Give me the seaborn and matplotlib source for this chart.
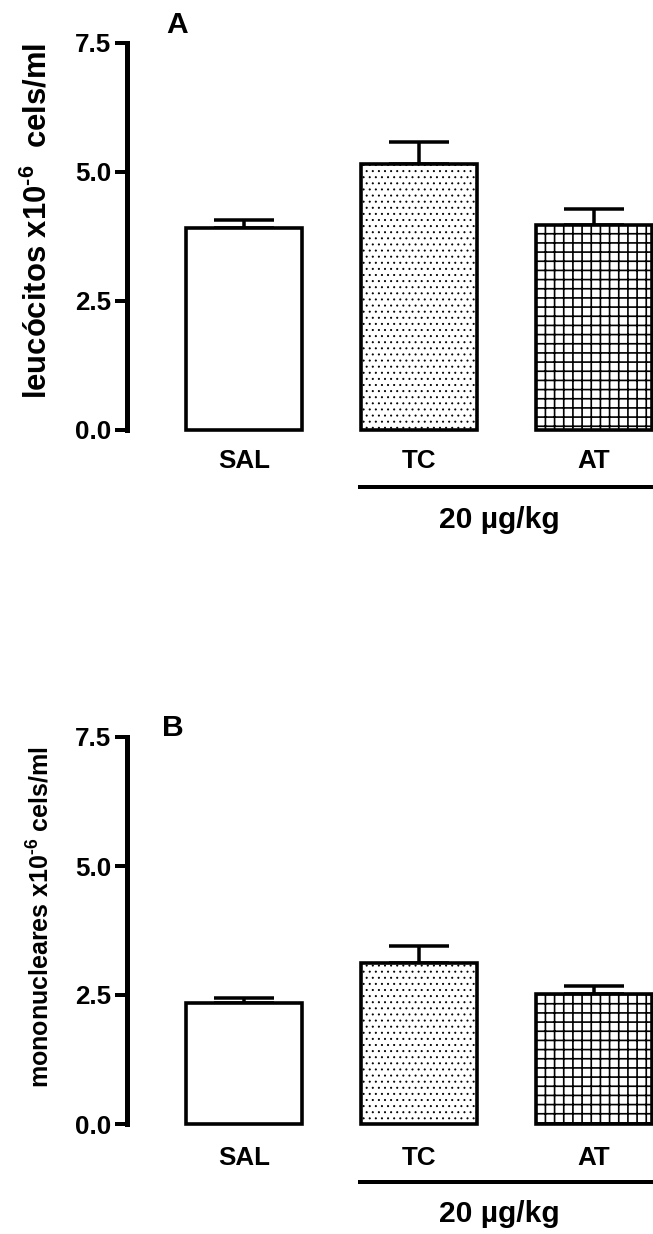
import numpy as np
import pandas as pd
import matplotlib
matplotlib.use('Agg')
import matplotlib.pyplot as plt
import matplotlib.transforms as mtransforms
import seaborn as sns

# ---------------- data ----------------
groups = ['SAL', 'TC', 'AT']
leuco_mean = [3.90, 5.15, 3.97]
leuco_sem = [0.16, 0.43, 0.31]
mono_mean = [2.34, 3.12, 2.52]
mono_sem = [0.11, 0.33, 0.15]
bar_hatches = ['', '...', '++']
hatch_widths = [1.0, 0.55, 1.1]
yticks = [0.0, 2.5, 5.0, 7.5]
ytick_labels = ['0.0', '2.5', '5.0', '7.5']
ylabel_a = r'leucócitos x10$^{\text{-6}}$  cels/ml'
ylabel_b = r'mononucleares x10$^{\text{-6}}$ cels/ml'
dose_label = '20 µg/kg'

# ---------------- style ----------------
DPI = 110
W, H = 653, 1234


def pt(px):
    return px * 72.0 / DPI


sns.set_theme(style='ticks')
plt.rcParams['font.family'] = ['Liberation Sans', 'DejaVu Sans']
plt.rcParams['font.weight'] = 'bold'
plt.rcParams['text.color'] = 'black'
plt.rcParams['axes.labelcolor'] = 'black'
plt.rcParams['xtick.color'] = 'black'
plt.rcParams['ytick.color'] = 'black'
plt.rcParams['axes.edgecolor'] = 'black'
plt.rcParams['mathtext.fontset'] = 'custom'
plt.rcParams['mathtext.rm'] = 'Liberation Sans:bold'
plt.rcParams['mathtext.bf'] = 'Liberation Sans:bold'
plt.rcParams['mathtext.it'] = 'Liberation Sans:bold'
plt.rcParams['mathtext.default'] = 'bf'
plt.rcParams['hatch.linewidth'] = 1.1
plt.rcParams['hatch.color'] = 'black'

fig = plt.figure(figsize=(W / DPI, H / DPI), dpi=DPI)

x0_px = 127
spacing = 175.0
c0 = 244.0
xlim = ((x0_px - c0) / spacing, (W - c0) / spacing)
ax_h_px = 387.0


def panel(bottom_px, means, sems, ylabel, ylab_px, ylab_xy, letter, letter_xy, xlab_pad):
    ax = fig.add_axes([x0_px / W, (H - bottom_px) / H, (W - x0_px) / W, ax_h_px / H])
    df = pd.DataFrame({'grupo': groups, 'valor': means})
    sns.barplot(data=df, x='grupo', y='valor', order=groups, color='white',
                edgecolor='black', linewidth=pt(3.6), width=0.66,
                errorbar=None, ax=ax, zorder=3)
    for p, h, hw in zip(ax.patches, bar_hatches, hatch_widths):
        p.set_facecolor('white')
        p.set_edgecolor('black')
        p.set_hatch(h)
        if hasattr(p, 'set_hatch_linewidth'):
            p.set_hatch_linewidth(hw)
        else:
            p._hatch_linewidth = hw
        p.set_clip_on(False)
    ax.errorbar(np.arange(len(groups)), means,
                yerr=[np.zeros(len(groups)), sems], fmt='none',
                ecolor='black', elinewidth=pt(3.5), capsize=pt(30),
                capthick=pt(3.5), zorder=2, clip_on=False)
    ax.set_xlim(*xlim)
    ax.set_ylim(0, 7.5)
    ax.set_yticks(yticks, ytick_labels)
    ax.set_xlabel('')
    ax.set_ylabel('')
    for s in ['top', 'right', 'bottom']:
        ax.spines[s].set_visible(False)
    ax.spines['left'].set_linewidth(pt(5))
    ax.spines['left'].set_color('black')
    ax.tick_params(axis='y', length=pt(12), width=pt(4), labelsize=pt(26),
                   pad=pt(4), colors='black')
    ax.tick_params(axis='x', length=0, labelsize=pt(26), pad=pt(xlab_pad),
                   colors='black')
    for t in ax.get_xticklabels() + ax.get_yticklabels():
        t.set_fontweight('bold')

    # bracket + dose label under TC / AT
    trans = mtransforms.blended_transform_factory(ax.transData, ax.transAxes)
    y_line = -(57.5) / ax_h_px
    ax.plot([0.65, xlim[1]], [y_line, y_line], color='black', lw=pt(4),
            transform=trans, clip_on=False, solid_capstyle='butt')
    ax.text(1.46, -(90.0) / ax_h_px, dose_label, transform=trans,
            ha='center', va='center', fontsize=pt(30), fontweight='bold',
            color='black')

    fig.text(ylab_xy[0] / W, 1 - ylab_xy[1] / H, ylabel, rotation=90,
             ha='center', va='center', fontsize=pt(ylab_px), fontweight='bold',
             color='black')
    fig.text(letter_xy[0] / W, 1 - letter_xy[1] / H, letter,
             ha='center', va='center', fontsize=pt(30), fontweight='bold',
             color='black')
    return ax


panel(429.5, leuco_mean, leuco_sem, ylabel_a, 31, (38, 221), 'A', (177, 25), 20)
panel(1124.0, mono_mean, mono_sem, ylabel_b, 25, (41, 917), 'B', (173, 728), 22)

fig.savefig('out.png', dpi=DPI, facecolor='white')
